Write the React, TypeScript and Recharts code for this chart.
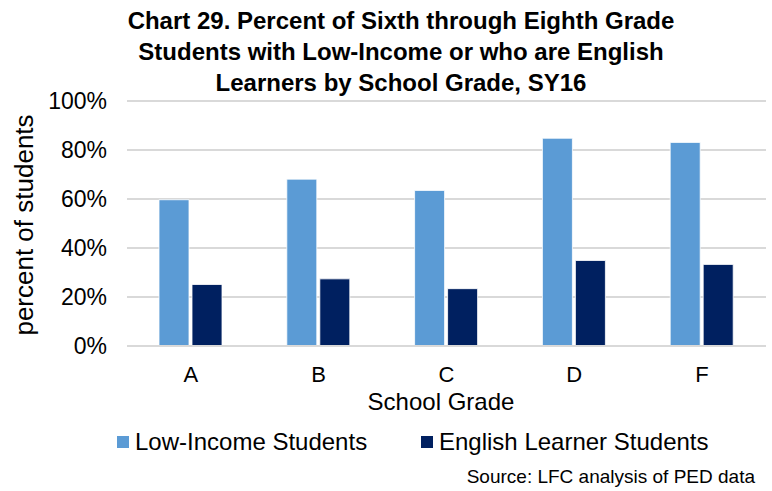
import React from 'react';
import { BarChart, Bar, XAxis, YAxis, CartesianGrid, Legend } from 'recharts';

const grades = ['A', 'B', 'C', 'D', 'F'];
const lowIncome = [59.7, 68.1, 63.5, 84.8, 83.1];
const englishLearners = [25.1, 27.4, 23.4, 34.9, 33.3];
const yTicks = [0, 20, 40, 60, 80, 100];
const seriesNames = ['Low-Income Students', 'English Learner Students'];
const COLORS = ['#5B9BD5', '#002060'];

const titleLines = [
  'Chart 29. Percent of Sixth through Eighth Grade',
  'Students with Low-Income or who are English',
  'Learners by School Grade, SY16',
];

const FONT = '"Liberation Sans", Arial, sans-serif';
const LEGEND_X = [117, 421];

const data = grades.map((g, i) => ({
  grade: g,
  low: lowIncome[i],
  el: englishLearners[i],
}));

const renderLegend = () => (
  <div style={{ position: 'relative', height: 28, fontFamily: FONT, fontSize: 24, color: '#000', lineHeight: '28px' }}>
    {seriesNames.map((name, i) => (
      <div
        key={name}
        style={{ display: 'flex', alignItems: 'center', position: 'absolute', top: 0, left: LEGEND_X[i], whiteSpace: 'nowrap' }}
      >
        <span style={{ display: 'inline-block', width: 12, height: 12, background: COLORS[i], marginRight: 6 }} />
        <span>{name}</span>
      </div>
    ))}
  </div>
);

const App: React.FC = () => {
  return (
    <div style={{ position: 'absolute', left: 0, top: 0, width: 772, height: 491, background: '#fff', fontFamily: FONT }}>
      <div
        style={{
          position: 'absolute',
          left: 0,
          top: 5,
          width: 802,
          textAlign: 'center',
          fontWeight: 'bold',
          fontSize: 24,
          lineHeight: '31px',
          color: '#000',
        }}
      >
        {titleLines.map((l) => (
          <div key={l}>{l}</div>
        ))}
      </div>

      <BarChart
        width={772}
        height={491}
        data={data}
        margin={{ top: 101, right: 6, left: 0, bottom: 87 }}
        barGap={3}
        barSize={30}
      >
        <CartesianGrid vertical={false} stroke="#D9D9D9" strokeWidth={2} />
        <XAxis
          dataKey="grade"
          height={30}
          tickLine={false}
          axisLine={{ stroke: '#D9D9D9', strokeWidth: 2 }}
          tickSize={6}
          tickMargin={14}
          tick={{ fontSize: 22, fill: '#000', fontFamily: FONT }}
        />
        <YAxis
          width={127}
          domain={[0, 100]}
          ticks={yTicks}
          tickFormatter={(v) => `${v}%`}
          axisLine={false}
          tickLine={false}
          tickSize={6}
          tickMargin={14}
          tick={{ fontSize: 23, fill: '#000', fontFamily: FONT }}
        />
        <Legend
          verticalAlign="bottom"
          content={renderLegend}
          wrapperStyle={{ position: 'absolute', left: 0, top: 428, width: 772, height: 28 }}
        />
        <Bar dataKey="low" name={seriesNames[0]} fill={COLORS[0]} stroke="#fff" strokeWidth={0.8} isAnimationActive={false} />
        <Bar dataKey="el" name={seriesNames[1]} fill={COLORS[1]} stroke="#fff" strokeWidth={0.8} isAnimationActive={false} />
      </BarChart>

      <div style={{ position: 'absolute', left: 24, top: 225, width: 0, height: 0 }}>
        <div
          style={{
            position: 'absolute',
            left: 0,
            top: 0,
            transform: 'translate(-50%, -50%) rotate(-90deg)',
            whiteSpace: 'nowrap',
            fontSize: 26,
            color: '#000',
            lineHeight: '28px',
          }}
        >
          percent of students
        </div>
      </div>

      <div
        style={{
          position: 'absolute',
          left: 341,
          width: 200,
          top: 388,
          textAlign: 'center',
          fontSize: 24,
          lineHeight: '28px',
          color: '#000',
        }}
      >
        School Grade
      </div>

      <div
        style={{
          position: 'absolute',
          right: 17,
          top: 465,
          fontSize: 19,
          lineHeight: '24px',
          color: '#000',
          whiteSpace: 'nowrap',
        }}
      >
        Source: LFC analysis of PED data
      </div>
    </div>
  );
};

export default App;
